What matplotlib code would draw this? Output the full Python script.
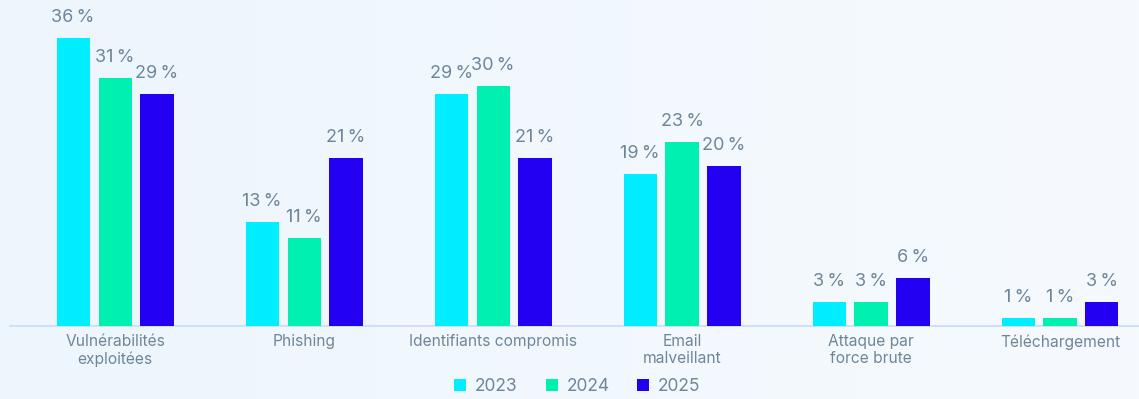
import numpy as np
import matplotlib.pyplot as plt
from matplotlib.patches import Patch
from matplotlib.colors import LinearSegmentedColormap

categories = ["Vulnérabilités\nexploitées", "Phishing", "Identifiants compromis",
              "Email\nmalveillant", "Attaque par\nforce brute", "Téléchargement"]
years = ["2023", "2024", "2025"]
v2023 = [36, 13, 29, 19, 3, 1]
v2024 = [31, 11, 30, 23, 3, 1]
v2025 = [29, 21, 21, 20, 6, 3]

colors = ["#00EEFF", "#00F0B2", "#2300F2"]
text_col = "#6F8599"

plt.rcParams['font.family'] = ['Inter', 'DejaVu Sans']

fig = plt.figure(figsize=(11.39, 3.99), dpi=100)

# soft left-to-right background tint
bg = fig.add_axes([0, 0, 1, 1], zorder=-10)
grad = np.linspace(0, 1, 256).reshape(1, -1)
cmap = LinearSegmentedColormap.from_list("bg", ["#EDF6FD", "#F6FAFE"])
bg.imshow(grad, aspect='auto', cmap=cmap, extent=[0, 1, 0, 1])
bg.axis('off')

ax = fig.add_axes([10 / 1139, (399 - 326) / 399, 1129 / 1139, 320 / 399])
ax.patch.set_alpha(0)

x = np.arange(len(categories))
width = 0.175
step = 0.222
for k, (vals, col) in enumerate(zip([v2023, v2024, v2025], colors)):
    bars = ax.bar(x + (k - 1) * step, vals, width, color=col, label=years[k], zorder=3)
    for b, v in zip(bars, vals):
        ax.annotate(f"{v}\u2009%", (b.get_x() + b.get_width() / 2, v),
                    xytext=(0, 9), textcoords='offset points',
                    ha='center', va='bottom', fontsize=13, color=text_col)

ax.set_xlim(-0.556, 5.418)
ax.set_ylim(0, 40)
ax.set_yticks([])
ax.set_xticks(x)
ax.set_xticklabels(categories, fontsize=11.2, color=text_col, linespacing=1.15)
ax.tick_params(axis='x', length=0, pad=6)
for s in ['top', 'right', 'left']:
    ax.spines[s].set_visible(False)
ax.spines['bottom'].set_color("#C6DCF7")
ax.spines['bottom'].set_linewidth(1.2)

handles = [Patch(facecolor=c, label=y) for c, y in zip(colors, years)]
fig.legend(handles=handles, loc='lower center', bbox_to_anchor=(0.507, -0.03),
           ncol=3, frameon=False, fontsize=12.5, labelcolor=text_col,
           handlelength=0.7, handleheight=0.7, columnspacing=1.6, handletextpad=0.5)

fig.savefig("out.png", dpi=100)
